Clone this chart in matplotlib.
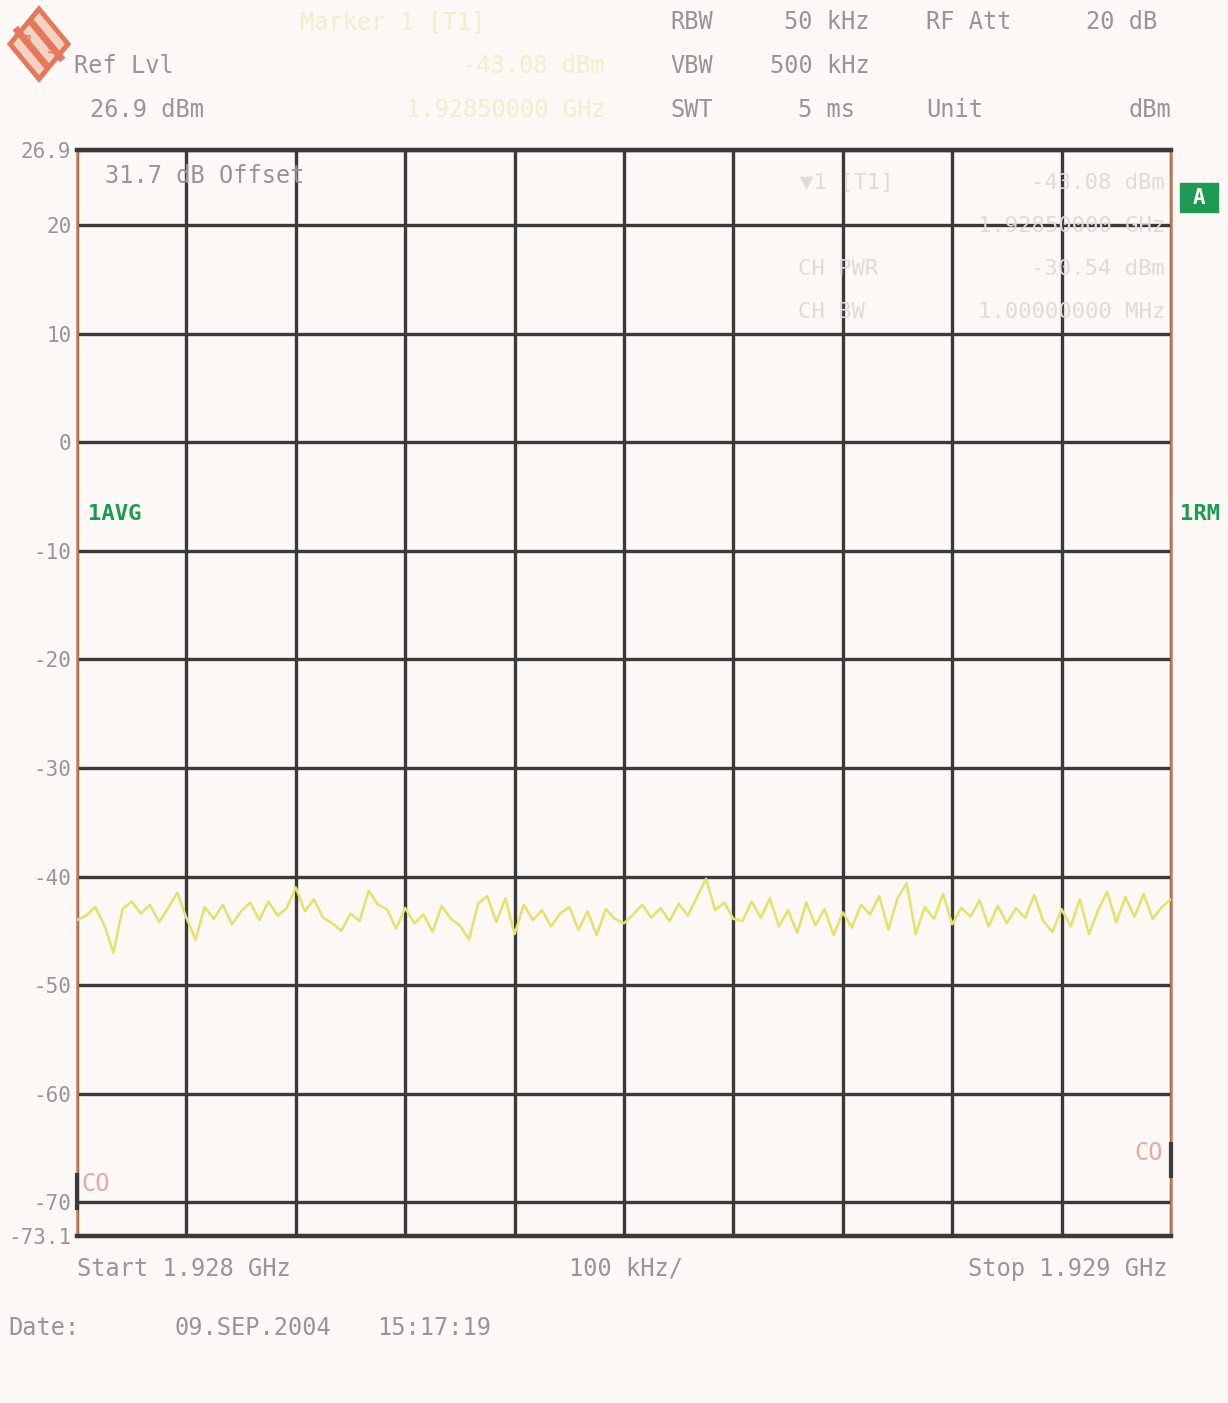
import numpy as np
import matplotlib.pyplot as plt
from matplotlib.patches import Polygon, Rectangle

# sweep settings (MHz)
start_mhz = 1928.0
stop_mhz = 1929.0
ref_level = 26.9
bottom_level = -73.1
grid_levels = [20, 10, 0, -10, -20, -30, -40, -50, -60, -70]

# trace 1 (AVG), dBm
levels = [
    -44.0, -43.6, -42.8, -44.5, -47.0, -43.0, -42.3, -43.4, -42.6, -44.2,
    -42.9, -41.5, -43.8, -45.8, -42.8, -43.9, -42.6, -44.4, -43.2, -42.4,
    -44.0, -42.3, -43.6, -42.9, -41.0, -43.2, -42.1, -43.8, -44.3, -45.0,
    -43.4, -44.1, -41.3, -42.6, -43.0, -44.8, -42.9, -44.3, -43.5, -45.1,
    -42.7, -43.9, -44.5, -45.8, -42.5, -41.8, -44.2, -42.0, -45.3, -42.6,
    -44.0, -43.1, -44.6, -43.4, -42.8, -44.9, -43.2, -45.4, -43.0, -43.9,
    -44.3, -43.5, -42.6, -43.8, -42.9, -44.1, -42.5, -43.6, -41.9, -40.2,
    -43.1, -42.4, -43.9, -44.1, -42.3, -43.8, -42.0, -44.6, -43.1, -45.2,
    -42.4, -44.5, -43.0, -45.4, -43.3, -44.7, -42.6, -43.5, -41.8, -44.9,
    -42.0, -40.6, -45.3, -42.8, -43.9, -41.6, -44.4, -42.9, -43.7, -42.2,
    -44.6, -42.7, -44.3, -42.9, -43.8, -41.7, -44.1, -45.1, -43.0, -44.6,
    -42.1, -45.3, -43.1, -41.4, -44.2, -41.9, -43.7, -41.6, -43.9, -42.8,
    -42.1,
]

W, H = 1228, 1403
BG = "#fbf8f5"
GRID = "#3a3a3a"
TXT = "#969696"
FAINT = "#dcdcd8"
YEL_FAINT = "#f2eecb"
GREEN = "#1f9a52"
LOGO = "#e5785a"
MONO = "DejaVu Sans Mono"


def fx(x):
    return x / W


def fy(y):
    return 1 - y / H


def label(x, y, s, ha="left", color=TXT, size=17, **kw):
    fig.text(fx(x), fy(y), s, ha=ha, va="center", color=color,
             fontsize=size, family=MONO, **kw)


fig = plt.figure(figsize=(W / 100, H / 100), dpi=100, facecolor=BG)
ax = fig.add_axes([fx(77), fy(1236), fx(1171) - fx(77), fy(150) - fy(1236)])
ax.set_facecolor(BG)

freqs = np.linspace(start_mhz, stop_mhz, len(levels))
ax.plot(freqs, levels, color="#e6e06c", lw=1.8, zorder=3)

ax.set_xlim(start_mhz, stop_mhz)
ax.set_ylim(bottom_level, ref_level)
ax.set_xticks(np.linspace(start_mhz, stop_mhz, 11))
ax.set_xticklabels([])
yt = [ref_level] + grid_levels + [bottom_level]
ax.set_yticks(yt)
ax.set_yticklabels(["26.9"] + [str(v) for v in grid_levels] + ["-73.1"],
                   family=MONO, fontsize=15, color=TXT)
ax.tick_params(length=0, pad=4)
ax.grid(True, color=GRID, lw=2.4, zorder=1)

for side in ["top", "bottom"]:
    ax.spines[side].set_color(GRID)
    ax.spines[side].set_linewidth(3.2)
for side in ["left", "right"]:
    ax.spines[side].set_color("#c47a5c")
    ax.spines[side].set_linewidth(1.8)

# in-grid annotations
ax.text(0.026, 0.976, "31.7 dB Offset", transform=ax.transAxes, ha="left",
        va="center", color=TXT, fontsize=17, family=MONO, zorder=4)
ax.text(0.01, 0.665, "1AVG", transform=ax.transAxes, ha="left", va="center",
        color=GREEN, fontsize=16, family=MONO, fontweight="bold", zorder=4)
ax.text(0.004, 0.048, "CO", transform=ax.transAxes, ha="left", va="center",
        color="#eaa7a4", fontsize=17, family=MONO, zorder=4)
ax.text(0.993, 0.076, "CO", transform=ax.transAxes, ha="right", va="center",
        color="#eaa7a4", fontsize=17, family=MONO, zorder=4)
ax.plot([start_mhz, start_mhz], [-67.5, -70.5], color=GRID, lw=3, zorder=4,
        clip_on=False)
ax.plot([stop_mhz, stop_mhz], [-64.6, -67.6], color=GRID, lw=3, zorder=4,
        clip_on=False)

# marker / channel power readout (faint)
for x, y, s, ha in [
    (800, 183, "\u25bc1 [T1]", "left"),
    (1165, 183, "-43.08 dBm", "right"),
    (1165, 226, "1.92850000 GHz", "right"),
    (798, 269, "CH PWR", "left"),
    (1165, 269, "-30.54 dBm", "right"),
    (798, 312, "CH BW", "left"),
    (1165, 312, "1.00000000 MHz", "right"),
]:
    label(x, y, s, ha=ha, color=FAINT, size=16, zorder=5)

# header
label(300, 22, "Marker 1 [T1]", color=YEL_FAINT)
label(605, 66, "-43.08 dBm", ha="right", color=YEL_FAINT)
label(605, 110, "1.92850000 GHz", ha="right", color=YEL_FAINT)
label(74, 66, "Ref Lvl")
label(90, 110, "26.9 dBm")
label(670, 22, "RBW")
label(870, 22, "50 kHz", ha="right")
label(926, 22, "RF Att")
label(1157, 22, "20 dB", ha="right")
label(670, 66, "VBW")
label(870, 66, "500 kHz", ha="right")
label(670, 110, "SWT")
label(855, 110, "5 ms", ha="right")
label(926, 110, "Unit")
label(1171, 110, "dBm", ha="right")

# footer
label(77, 1269, "Start 1.928 GHz")
label(626, 1269, "100 kHz/", ha="center")
label(1167, 1269, "Stop 1.929 GHz", ha="right")
label(8, 1328, "Date:")
label(175, 1328, "09.SEP.2004")
label(377, 1328, "15:17:19")

# trace status badges at the right edge
fig.patches.append(Rectangle((fx(1180), fy(212)), fx(38), fy(183) - fy(212),
                             transform=fig.transFigure, color=GREEN))
label(1199, 198, "A", ha="center", color="white", size=15, fontweight="bold")
label(1180, 514, "1RM", color=GREEN, size=16, fontweight="bold")

# instrument logo (diamond with two diagonal bars)
cx, cy, hw, hh = 39, 44, 29, 35
diamond = [(fx(cx), fy(cy - hh)), (fx(cx + hw), fy(cy)),
           (fx(cx), fy(cy + hh)), (fx(cx - hw), fy(cy))]
fig.patches.append(Polygon(diamond, closed=True, transform=fig.transFigure,
                           facecolor="#f6d2c4", edgecolor=LOGO, lw=3.5))
for off in (-7, 7):
    x0, y0 = cx - hw / 2 + off, cy - hh / 2 - off * 0.6
    x1, y1 = cx + hw / 2 + off, cy + hh / 2 - off * 0.6
    fig.lines.append(plt.Line2D([fx(x0), fx(x1)], [fy(y0), fy(y1)],
                                transform=fig.transFigure, color=LOGO, lw=5))
label(cx - 11, cy - 4, "R", ha="center", color=LOGO, size=8, fontweight="bold")
label(cx + 11, cy + 6, "S", ha="center", color=LOGO, size=8, fontweight="bold")

fig.savefig("out.png", dpi=100, facecolor=BG)
